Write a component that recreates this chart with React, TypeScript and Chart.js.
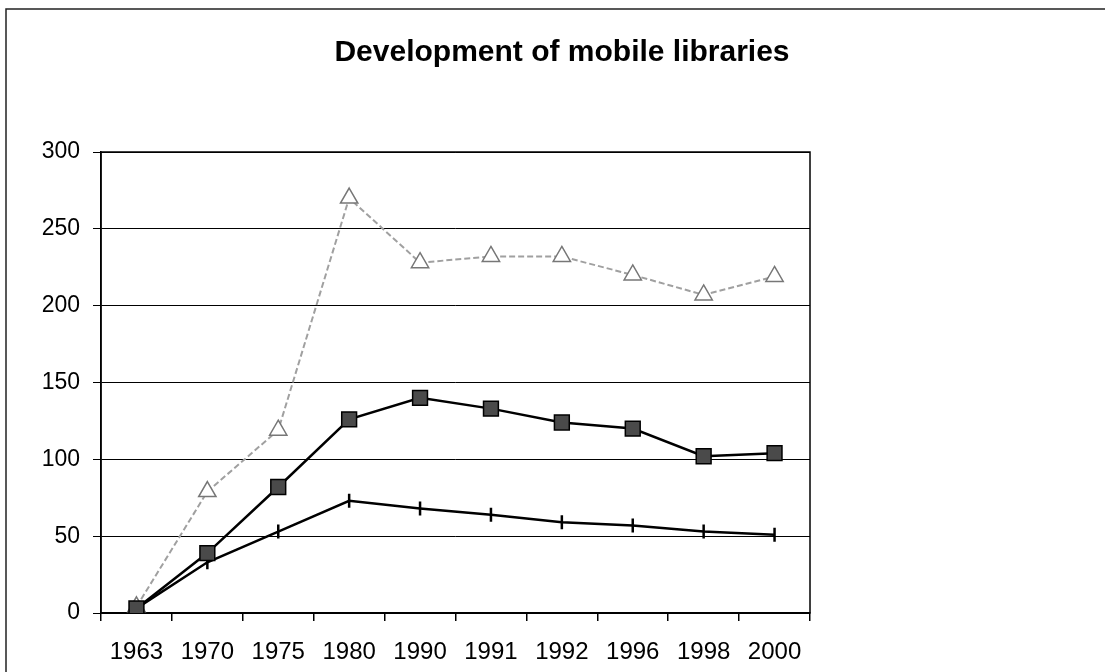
import React, { useEffect, useRef } from "react";
import { Chart, registerables } from "chart.js";

Chart.register(...registerables);

const TITLE = "Development of mobile libraries";
const years = ["1963", "1970", "1975", "1980", "1990", "1991", "1992", "1996", "1998", "2000"];
const triangleSeries = [4, 79, 119, 270, 228, 232, 232, 220, 207, 219];
const squareSeries = [3, 39, 82, 126, 140, 133, 124, 120, 102, 104];
const plusSeries = [3, 33, 53, 73, 68, 64, 59, 57, 53, 51];
const yMin = 0;
const yMax = 300;
const yStep = 50;

const FONT = "'Liberation Sans', Arial, sans-serif";

const framePlugin = {
  id: "framePlugin",
  beforeDraw(chart: any) {
    const ctx = chart.ctx;
    ctx.save();
    ctx.fillStyle = "#ffffff";
    ctx.fillRect(0, 0, chart.width, chart.height);
    ctx.strokeStyle = "#222";
    ctx.lineWidth = 1.5;
    ctx.beginPath();
    ctx.moveTo(6, chart.height);
    ctx.lineTo(6, 9);
    ctx.lineTo(chart.width, 9);
    ctx.stroke();
    ctx.fillStyle = "#000";
    ctx.font = "bold 30px " + FONT;
    ctx.textAlign = "center";
    ctx.textBaseline = "middle";
    ctx.fillText(TITLE, 562, 53);
    ctx.restore();
  },
  beforeDatasetsDraw(chart: any) {
    const { ctx, chartArea } = chart;
    ctx.save();
    ctx.strokeStyle = "#000";
    ctx.lineWidth = 1.5;
    ctx.strokeRect(chartArea.left, chartArea.top, chartArea.right - chartArea.left, chartArea.bottom - chartArea.top);
    ctx.restore();
  },
};

export default function App() {
  const ref = useRef<HTMLCanvasElement>(null);
  useEffect(() => {
    if (!ref.current) return;
    const chart = new Chart(ref.current, {
      type: "line",
      data: {
        labels: years,
        datasets: [
          {
            label: "Series B",
            data: squareSeries,
            borderColor: "#000",
            borderWidth: 2.5,
            pointStyle: "rect",
            pointRadius: 10.5,
            pointBackgroundColor: "#4a4a4a",
            pointBorderColor: "#000",
            pointBorderWidth: 1.5,
            tension: 0,
          },
          {
            label: "Series C",
            data: plusSeries,
            borderColor: "#000",
            borderWidth: 2.5,
            pointStyle: "line",
            pointRotation: 90,
            pointRadius: 7,
            pointBorderColor: "#000",
            pointBorderWidth: 2.5,
            tension: 0,
          },
          {
            label: "Series A",
            data: triangleSeries,
            borderColor: "#a0a0a0",
            borderWidth: 2,
            borderDash: [6, 3],
            pointStyle: "triangle",
            pointRadius: 10,
            pointBackgroundColor: "#ffffff",
            pointBorderColor: "#777",
            pointBorderWidth: 1.5,
            tension: 0,
          },
        ],
      },
      options: {
        animation: false,
        responsive: true,
        maintainAspectRatio: false,
        layout: { padding: { left: 0, top: 152, right: 295, bottom: 0 } },
        plugins: {
          legend: { display: false },
          title: { display: false },
          tooltip: { enabled: false },
        },
        scales: {
          x: {
            type: "category",
            offset: true,
            afterFit: (scale: any) => {
              scale.height = 59;
            },
            grid: {
              offset: true,
              drawOnChartArea: false,
              drawTicks: true,
              tickLength: 8,
              color: "#000",
              lineWidth: 1.5,
            },
            border: { color: "#000", width: 1.5 },
            ticks: {
              color: "#000",
              font: { family: FONT, size: 24 },
              padding: 17,
              maxRotation: 0,
              autoSkip: false,
            },
          },
          y: {
            min: yMin,
            max: yMax,
            afterFit: (scale: any) => {
              scale.width = 101;
            },
            grid: {
              color: "#000",
              lineWidth: 1,
              drawTicks: true,
              tickLength: 8,
            },
            border: { color: "#000", width: 1.5 },
            ticks: {
              stepSize: yStep,
              color: "#000",
              font: { family: FONT, size: 23 },
              padding: 13,
            },
          },
        },
      },
      plugins: [framePlugin],
    });
    return () => chart.destroy();
  }, []);

  return (
    <div style={{ position: "absolute", left: 0, top: 0, width: 1105, height: 672, background: "#fff" }}>
      <canvas ref={ref} />
    </div>
  );
}
